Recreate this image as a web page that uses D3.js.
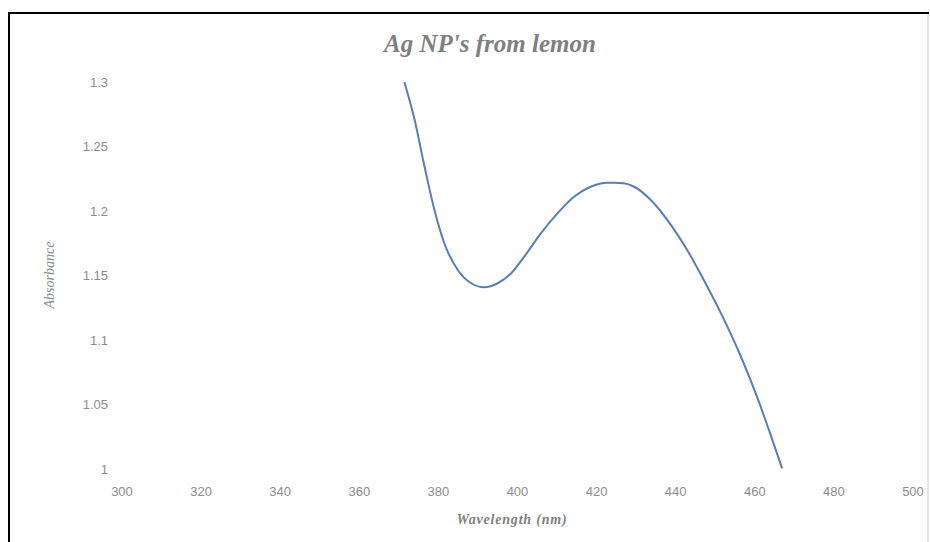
<!DOCTYPE html>
<html>
<head>
<meta charset="utf-8">
<script src="https://cdn.jsdelivr.net/npm/d3@7"></script>
<style>
  body { margin: 0; background: #fff; }
  svg { display: block; }
</style>
</head>
<body>
<div id="chart"></div>
<script>
// Absorbance spectrum
const wavelength = [371.4, 374.0, 376.5, 379.0, 381.5, 384.9, 388.3, 391.6, 395.0, 398.4,
  401.7, 405.9, 410.1, 414.3, 418.5, 422.7, 424.4, 426.9, 429.5, 433.7,
  437.9, 442.9, 447.1, 452.1, 456.4, 460.6, 463.9, 466.9];
const absorbance = [1.300, 1.2705, 1.2343, 1.2008, 1.175, 1.1543, 1.144, 1.1409, 1.144, 1.1517,
  1.1646, 1.1827, 1.1982, 1.2111, 1.2188, 1.2219, 1.2219, 1.2215, 1.2188, 1.2085,
  1.193, 1.1698, 1.1465, 1.1166, 1.0878, 1.0557, 1.0274, 1.0005];
const xTicks = [300, 320, 340, 360, 380, 400, 420, 440, 460, 480, 500];
const yTicks = [1, 1.05, 1.1, 1.15, 1.2, 1.25, 1.3];

const width = 930, height = 542;
const svg = d3.select("#chart").append("svg")
  .attr("width", width)
  .attr("height", height);

// frame
svg.append("rect")
  .attr("x", 9).attr("y", 13)
  .attr("width", 919).attr("height", 540)
  .attr("fill", "#fff")
  .attr("stroke", "#000")
  .attr("stroke-width", 2);
svg.append("line")
  .attr("x1", 928).attr("x2", 928).attr("y1", 14).attr("y2", 542)
  .attr("stroke", "#e6e6e6").attr("stroke-width", 2);

const x = d3.scaleLinear().domain([300, 500]).range([122, 913]);
const y = d3.scaleLinear().domain([1, 1.3]).range([469, 82]);

const tickColor = "#8c8c8c";
const tickFont = "'Liberation Sans', Arial, sans-serif";

// y tick labels
svg.append("g").selectAll("text")
  .data(yTicks).enter().append("text")
  .attr("x", 108)
  .attr("y", d => y(d))
  .attr("dy", "0.35em")
  .attr("text-anchor", "end")
  .attr("font-family", tickFont)
  .attr("font-size", 13)
  .attr("fill", tickColor)
  .text(d => d3.format("~g")(d));

// x tick labels
svg.append("g").selectAll("text")
  .data(xTicks).enter().append("text")
  .attr("x", d => x(d))
  .attr("y", 491)
  .attr("dy", "0.35em")
  .attr("text-anchor", "middle")
  .attr("font-family", tickFont)
  .attr("font-size", 13)
  .attr("fill", tickColor)
  .text(d => d);

// the spectrum
const points = wavelength.map((w, i) => [w, absorbance[i]]);
const line = d3.line()
  .x(d => x(d[0]))
  .y(d => y(d[1]))
  .curve(d3.curveMonotoneX);

svg.append("path")
  .datum(points)
  .attr("fill", "none")
  .attr("stroke", "#5a7db5")
  .attr("stroke-width", 2)
  .attr("d", line);

// titles
const serif = "'Liberation Serif', 'Times New Roman', serif";
svg.append("text")
  .attr("x", 490).attr("y", 52)
  .attr("text-anchor", "middle")
  .attr("font-family", serif)
  .attr("font-style", "italic")
  .attr("font-weight", "bold")
  .attr("font-size", 25)
  .attr("fill", "#7f7f7f")
  .text("Ag NP's from lemon");

svg.append("text")
  .attr("x", 512).attr("y", 524)
  .attr("text-anchor", "middle")
  .attr("font-family", serif)
  .attr("font-style", "italic")
  .attr("font-weight", "bold")
  .attr("font-size", 14)
  .attr("letter-spacing", 0.8)
  .attr("fill", "#7f7f7f")
  .text("Wavelength (nm)");

svg.append("text")
  .attr("transform", "translate(54,275) rotate(-90)")
  .attr("text-anchor", "middle")
  .attr("font-family", serif)
  .attr("font-style", "italic")
  .attr("font-size", 14)
  .attr("fill", "#8c8c8c")
  .text("Absorbance");
</script>
</body>
</html>
